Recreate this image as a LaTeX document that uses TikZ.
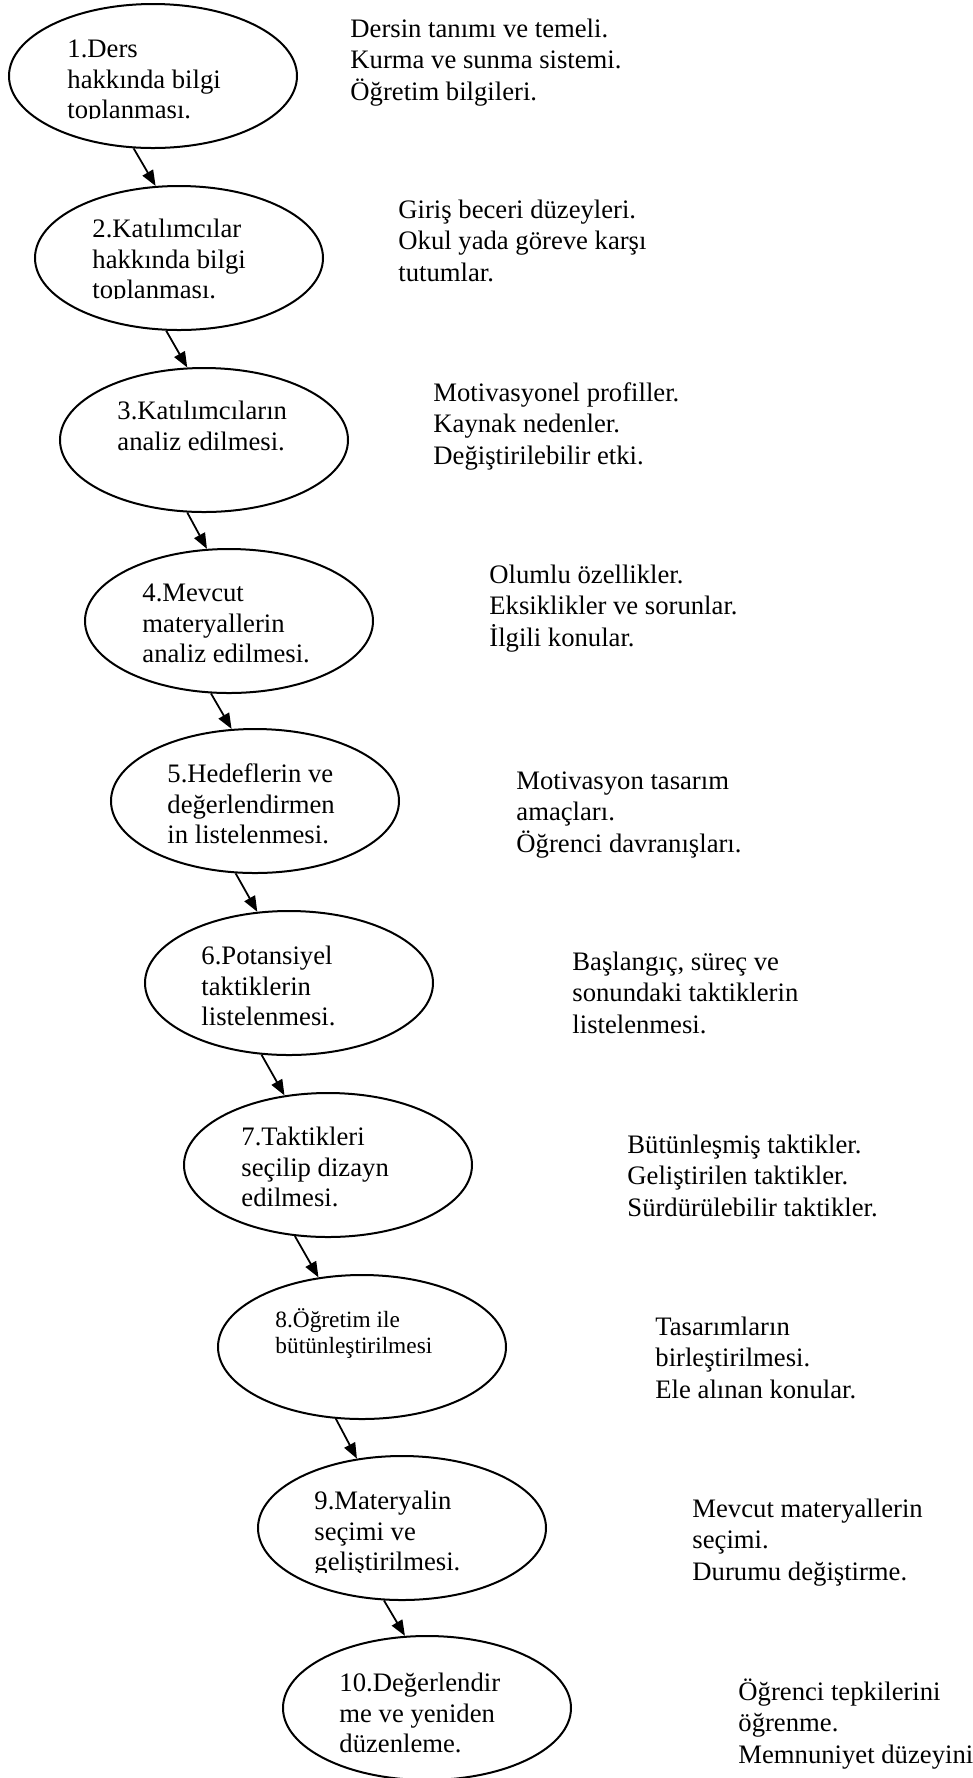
\documentclass[tikz,border=0pt]{standalone}
\usepackage{fontspec}
\setmainfont{Liberation Serif}
\usetikzlibrary{shapes.geometric,arrows.meta}
\begin{document}
\begin{tikzpicture}[x=0.45pt,y=0.45pt,
    elips/.style={draw,ellipse,line width=0.9pt,inner sep=0pt,minimum width=129.6pt,minimum height=64.8pt},
    yazi/.style={anchor=base west,inner sep=0pt,align=left,font=\fontsize{12}{13.6}\selectfont},
    aciklama/.style={anchor=base west,inner sep=0pt,align=left,font=\fontsize{12}{14}\selectfont},
    okcizgi/.style={line width=0.8pt,-{Triangle[length=7pt,width=5.4pt]}}]
\useasboundingbox (0,0) rectangle (973,-1778);
\node[elips] (e1) at (153,-76) {};
\node[elips] (e2) at (179,-258) {};
\node[elips] (e3) at (204,-440) {};
\node[elips] (e4) at (229,-621) {};
\node[elips] (e5) at (255,-801) {};
\node[elips] (e6) at (289,-983) {};
\node[elips] (e7) at (328,-1165) {};
\node[elips] (e8) at (362,-1347) {};
\node[elips] (e9) at (402,-1528) {};
\node[elips] (e10) at (427,-1708) {};
\begin{scope}
  \clip (60,-30) rectangle (260,-118);
  \node[yazi] (t1) at (67,-118.4) {1.Ders\\hakkında bilgi\\toplanması.};
\end{scope}
\begin{scope}
  \clip (85,-210) rectangle (290,-298);
  \node[yazi] (t2) at (92,-298.4) {2.Katılımcılar\\hakkında bilgi\\toplanması.};
\end{scope}
\node[yazi] (t3) at (117,-450) {3.Katılımcıların\\analiz edilmesi.};
\node[yazi] (t4) at (142,-662.4) {4.Mevcut\\materyallerin\\analiz edilmesi.};
\node[yazi] (t5) at (167,-843.4) {5.Hedeflerin ve\\değerlendirmen\\in listelenmesi.};
\node[yazi] (t6) at (201,-1025.4) {6.Potansiyel\\taktiklerin\\listelenmesi.};
\node[yazi] (t7) at (241,-1206.4) {7.Taktikleri\\seçilip dizayn\\edilmesi.};
\node[yazi,font=\fontsize{10.5}{11.7}\selectfont] (t8) at (275,-1353) {8.Öğretim ile\\bütünleştirilmesi};
\begin{scope}
  \clip (305,-1480) rectangle (520,-1572);
  \node[yazi] (t9) at (314,-1570.4) {9.Materyalin\\seçimi ve\\geliştirilmesi.};
\end{scope}
\node[yazi] (t10) at (339,-1752.4) {10.Değerlendir\\me ve yeniden\\düzenleme.};
\node[aciklama] (a1) at (350,-100) {Dersin tanımı ve temeli.\\Kurma ve sunma sistemi.\\Öğretim bilgileri.};
\node[aciklama] (a2) at (398,-281) {Giriş beceri düzeyleri.\\Okul yada göreve karşı\\tutumlar.};
\node[aciklama] (a3) at (433,-464) {Motivasyonel profiller.\\Kaynak nedenler.\\Değiştirilebilir etki.};
\node[aciklama] (a4) at (489,-646) {Olumlu özellikler.\\Eksiklikler ve sorunlar.\\İlgili konular.};
\node[aciklama] (a5) at (516,-852) {Motivasyon tasarım\\amaçları.\\Öğrenci davranışları.};
\node[aciklama] (a6) at (572,-1033) {Başlangıç, süreç ve\\sonundaki taktiklerin\\listelenmesi.};
\node[aciklama] (a7) at (627,-1216) {Bütünleşmiş taktikler.\\Geliştirilen taktikler.\\Sürdürülebilir taktikler.};
\node[aciklama] (a8) at (655,-1398) {Tasarımların\\birleştirilmesi.\\Ele alınan konular.};
\node[aciklama] (a9) at (692,-1580) {Mevcut materyallerin\\seçimi.\\Durumu değiştirme.};
\node[aciklama] (a10) at (738,-1763) {Öğrenci tepkilerini\\öğrenme.\\Memnuniyet düzeyini};
\foreach \i/\j/\p/\q in {1/2/-105/108,2/3/-100/103,3/4/-103/107,4/5/-104/108,5/6/-105/114,6/7/-111/122,7/8/-115/122,8/9/-110/123,9/10/-104/107}
  \draw[okcizgi] (e\i.\p) -- (e\j.\q);
\end{tikzpicture}
\end{document}
